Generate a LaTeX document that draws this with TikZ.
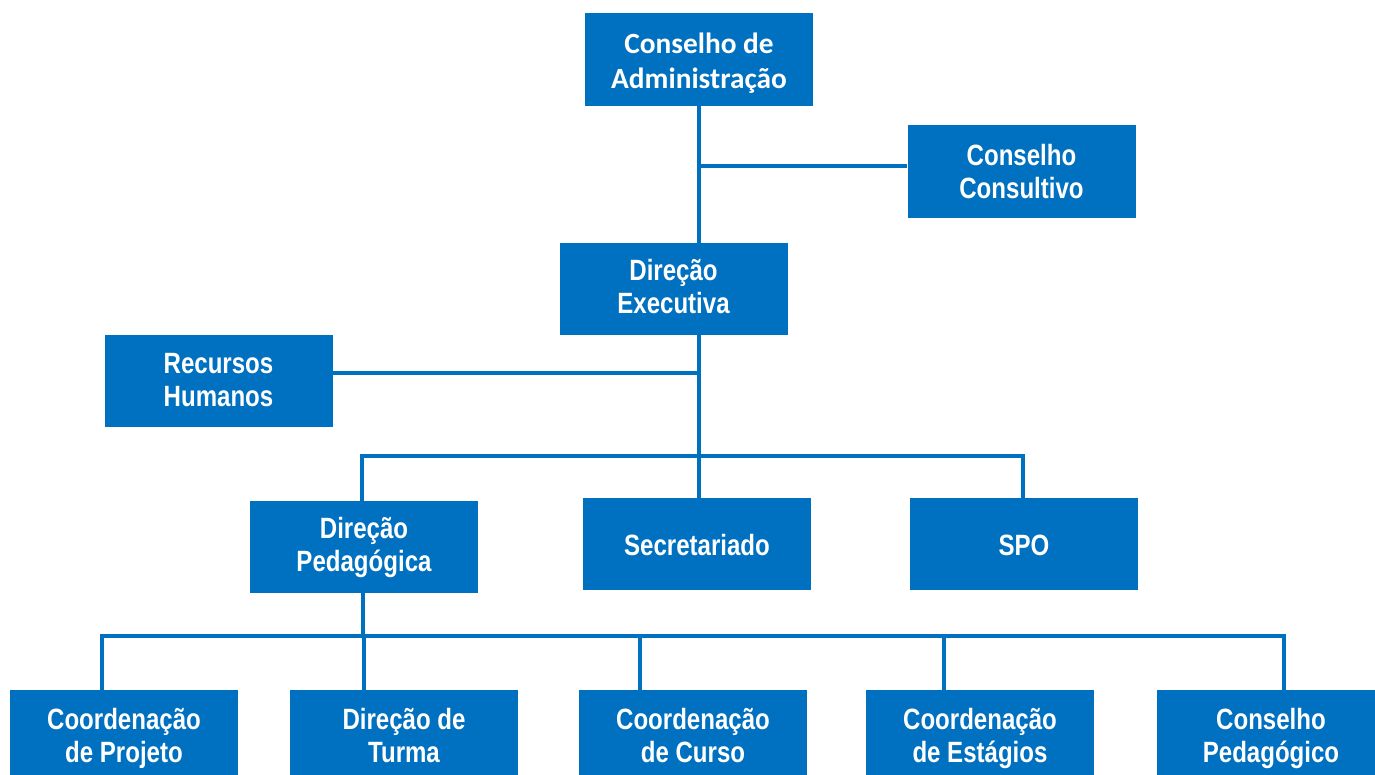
\documentclass[tikz,border=0pt]{standalone}
\usepackage{fontspec}
\newfontfamily\narrowfont[FakeStretch=0.82]{Liberation Sans}
\newfontfamily\calfont{Carlito}
\definecolor{orgblue}{HTML}{0070C0}
% two text lines with fixed top strut (#1) and fixed bottom depth
\newcommand{\twolines}[3]{\rule{0pt}{#1}#2\\#3\rule[-7pt]{0pt}{0pt}}
\newcommand{\oneline}[2]{\rule[-7pt]{0pt}{\dimexpr#1+7pt\relax}#2}
\begin{document}
\begin{tikzpicture}[x=0.75pt,y=-0.75pt,
  box/.style={fill=orgblue,draw=none,text=white,align=center,inner sep=0pt,
    minimum width=171pt,minimum height=69pt,
    font=\narrowfont\bfseries\fontsize{22}{24.75}\selectfont},
  calbox/.style={box,font=\calfont\bfseries\fontsize{22}{26.25}\selectfont},
  link/.style={draw=orgblue,line width=3.6pt}]
\useasboundingbox (0,0) rectangle (1375,775);
% boxes
\node[calbox,minimum height=70pt] (ca) at (699,59.5) {\twolines{24.25pt}{Conselho de}{Administração}};
\node[box,minimum height=70pt] (cc) at (1021.5,171.5) {\twolines{22.75pt}{Conselho}{Consultivo}};
\node[box] (de) at (673.5,289) {\twolines{18.25pt}{Direção}{Executiva}};
\node[box] (rh) at (218.5,381) {\twolines{19.75pt}{Recursos}{Humanos}};
\node[box] (dp) at (364,547) {\twolines{18.25pt}{Direção}{Pedagógica}};
\node[box] (sec) at (697,544) {\oneline{23.5pt}{Secretariado}};
\node[box] (spo) at (1024,544) {\oneline{23.5pt}{SPO}};
\node[box,minimum height=68.25pt] (cp) at (124,735.5) {\twolines{22pt}{Coordenação}{de Projeto}};
\node[box,minimum height=68.25pt] (dt) at (404,735.5) {\twolines{22pt}{Direção de}{Turma}};
\node[box,minimum height=68.25pt] (cu) at (693,735.5) {\twolines{22pt}{Coordenação}{de Curso}};
\node[box,minimum height=68.25pt] (ce) at (980,735.5) {\twolines{22pt}{Coordenação}{de Estágios}};
\node[box,minimum height=68.25pt] (cpe) at (1271,735.5) {\twolines{22pt}{Conselho}{Pedagógico}};
% junction coordinates
\coordinate (v) at (699,0);
\coordinate (j1) at (699,166);
\coordinate (j2) at (699,373);
\coordinate (b1) at (362,456);
\coordinate (b2) at (1023,456);
\coordinate (p) at (363,0);
\coordinate (c1) at (102,636);
\coordinate (c2) at (364,636);
\coordinate (c3) at (640,636);
\coordinate (c4) at (944,636);
\coordinate (c5) at (1284,636);
% connectors
\draw[link] (ca.south -| v) -- (de.north -| v);
\draw[link] (de.south -| v) -- (sec.north -| v);
\draw[link] (j1) -- (j1 -| cc.west);
\draw[link] (j2) -- (j2 -| rh.east);
\draw[link] (dp.north -| b1) -- (b1) -- (b2) -- (spo.north -| b2);
\draw[link] (dp.south -| p) -- (c1 -| p);
\draw[link] (cp.north -| c1) -- (c1) -- (c5) -- (cpe.north -| c5);
\draw[link] (c2) -- (dt.north -| c2);
\draw[link] (c3) -- (cu.north -| c3);
\draw[link] (c4) -- (ce.north -| c4);
\end{tikzpicture}
\end{document}
